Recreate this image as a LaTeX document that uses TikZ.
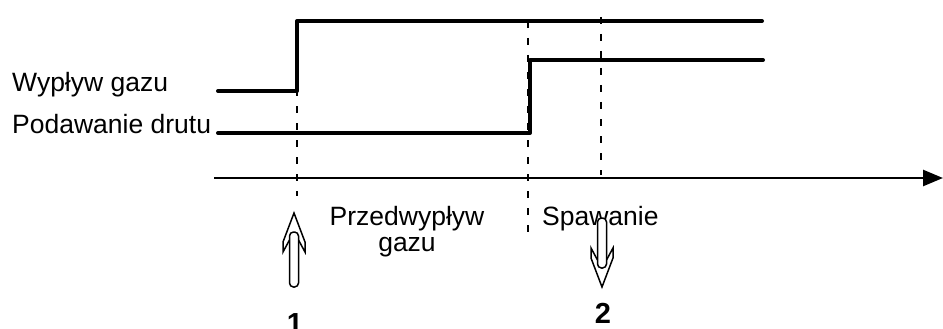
\documentclass[tikz,border=0pt]{standalone}
\usepackage{fontspec}
\setmainfont{Liberation Sans}
\usetikzlibrary{arrows.meta, positioning}

\tikzset{
  sig/.style={line width=4pt, line cap=round, line join=round},
  guide/.style={line width=2pt, dash pattern=on 7pt off 10pt},
  lbl/.style={font=\fontsize{26.5}{30}\selectfont, inner sep=0pt},
  num/.style={font=\fontsize{29}{30}\selectfont\bfseries, inner sep=0pt},
  hollowarrow/.pic={
    \draw[line width=1.5pt, fill=white, line join=miter]
      (4.5,27) -- (11,39) -- (11,29) -- (0,0) -- (-11,29) -- (-11,39) -- (-4.5,27);
    \draw[line width=1.5pt, fill=white, rounded corners=4pt] (-4.5,19) rectangle (4.5,#1);
  }
}

\begin{document}
\begin{tikzpicture}[x={(1pt,0)}, y={(0,-1pt)}]
  \useasboundingbox (0,0) rectangle (943,329);
  % signals
  \draw[sig] (218,91) -- (297,91) -- (297,21) -- (762,21);
  \draw[sig] (218,133) -- (530,133) -- (530,60) -- (763,60);
  % time marks
  \draw[guide] (297,21) -- (297,196);
  \draw[guide] (528,21) -- (528,242);
  \draw[guide] (601,17) -- (601,175);
  % time axis
  \coordinate (t0) at (214,178);
  \coordinate (tend) at (943,178);
  \draw[line width=2.5pt, -{Triangle[length=20pt, width=16pt]}] (t0) -- (tend);
  \node[lbl, anchor=base west] (gas) at (12,92) {Wypływ gazu};
  \node[lbl, anchor=base west] (wire) at (12,133) {Podawanie drutu};
  \node[lbl, anchor=base] (pre) at (407,225) {Przedwypływ};
  \node[lbl, anchor=base] (pregas) at (407,251) {gazu};
  \node[lbl, anchor=base west] (weld) at (542,225) {Spawanie};
  \pic at (294,213) {hollowarrow=74};
  \pic[rotate=180] at (602,287) {hollowarrow=69};
  \node[num, anchor=base] (n1) at (295,333) {1};
  \node[num, anchor=base] (n2) at (603,323) {2};
\end{tikzpicture}
\end{document}
